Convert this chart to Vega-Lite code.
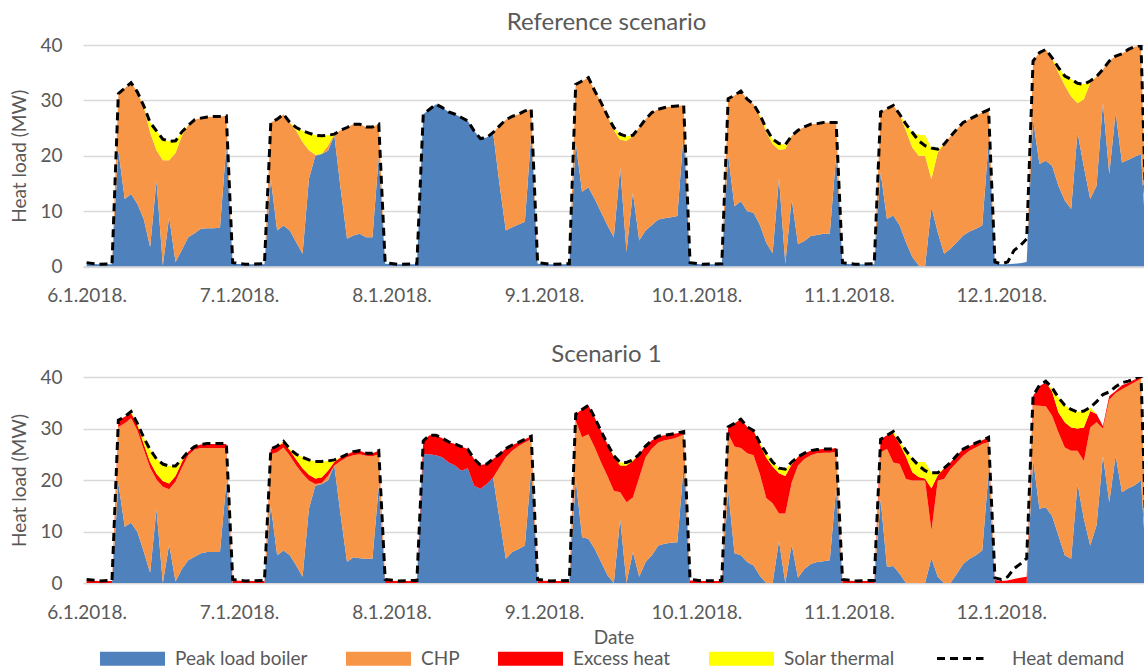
{
"$schema":"https://vega.github.io/schema/vega-lite/v6.json",
"background":"white",
"padding":{"left":10,"top":11,"right":0,"bottom":0},
"config":{
 "font":"Lato",
 "view":{"stroke":null},
 "title":{"font":"Lato","fontSize":24,"fontWeight":"normal","color":"#595959","offset":1,"frame":"group","dx":-7},
 "axis":{"labelFont":"Lato","labelColor":"#595959","labelFontSize":19,"titleFont":"Lato","titleColor":"#595959","titleFontSize":19,"titleFontWeight":"normal"},
 "concat":{"spacing":37}
},
"datasets":{
"ref":[
{"t":"2018-01-06T00:00","b":0.5,"c":0,"e":0,"s":0,"d":0.7},
{"t":"2018-01-06T02:00","b":0.4,"c":0,"e":0,"s":0,"d":0.4},
{"t":"2018-01-06T04:00","b":0.4,"c":0,"e":0,"s":0,"d":0.5},
{"t":"2018-01-06T05:00","b":21,"c":10.2,"e":0,"s":0,"d":31.2},
{"t":"2018-01-06T06:00","b":12.2,"c":20,"e":0,"s":0,"d":32.2},
{"t":"2018-01-06T07:00","b":13.1,"c":20.1,"e":0,"s":0,"d":33.2},
{"t":"2018-01-06T08:00","b":11.3,"c":20.2,"e":0,"s":0,"d":31.5},
{"t":"2018-01-06T09:00","b":8.6,"c":20.2,"e":0,"s":0.2,"d":29},
{"t":"2018-01-06T10:00","b":3.5,"c":20.7,"e":0,"s":1.8,"d":26},
{"t":"2018-01-06T11:00","b":15.5,"c":5.5,"e":0,"s":3.5,"d":24.5},
{"t":"2018-01-06T12:00","b":0.2,"c":19,"e":0,"s":3.8,"d":23},
{"t":"2018-01-06T13:00","b":8.9,"c":10.3,"e":0,"s":3.4,"d":22.6},
{"t":"2018-01-06T14:00","b":0.8,"c":19.7,"e":0,"s":2.2,"d":22.7},
{"t":"2018-01-06T15:00","b":3,"c":20.6,"e":0,"s":0.7,"d":24.3},
{"t":"2018-01-06T16:00","b":5.3,"c":20.2,"e":0,"s":0,"d":25.5},
{"t":"2018-01-06T17:00","b":6,"c":20.5,"e":0,"s":0,"d":26.5},
{"t":"2018-01-06T18:00","b":6.8,"c":20,"e":0,"s":0,"d":26.8},
{"t":"2018-01-06T19:00","b":6.9,"c":20.1,"e":0,"s":0,"d":27},
{"t":"2018-01-06T20:00","b":6.9,"c":20.2,"e":0,"s":0,"d":27.1},
{"t":"2018-01-06T21:00","b":7,"c":20.1,"e":0,"s":0,"d":27.1},
{"t":"2018-01-06T22:00","b":21.8,"c":5.4,"e":0,"s":0,"d":27.2},
{"t":"2018-01-06T23:00","b":0.5,"c":0,"e":0,"s":0,"d":0.7},
{"t":"2018-01-07T01:00","b":0.4,"c":0,"e":0,"s":0,"d":0.4},
{"t":"2018-01-07T04:00","b":0.4,"c":0,"e":0,"s":0,"d":0.5},
{"t":"2018-01-07T05:00","b":15.8,"c":10.2,"e":0,"s":0,"d":26},
{"t":"2018-01-07T06:00","b":6.5,"c":20.1,"e":0,"s":0,"d":26.6},
{"t":"2018-01-07T07:00","b":7.4,"c":20.1,"e":0,"s":0,"d":27.5},
{"t":"2018-01-07T08:00","b":6.5,"c":19.5,"e":0,"s":0,"d":26},
{"t":"2018-01-07T09:00","b":4.4,"c":20.1,"e":0,"s":0.6,"d":25.1},
{"t":"2018-01-07T10:00","b":2.3,"c":20.2,"e":0,"s":2,"d":24.5},
{"t":"2018-01-07T11:00","b":15.8,"c":5.2,"e":0,"s":3.1,"d":24.1},
{"t":"2018-01-07T12:00","b":20,"c":0.2,"e":0,"s":3.5,"d":23.7},
{"t":"2018-01-07T13:00","b":20.3,"c":0,"e":0,"s":3.3,"d":23.6},
{"t":"2018-01-07T14:00","b":20.9,"c":0.9,"e":0,"s":1.9,"d":23.7},
{"t":"2018-01-07T15:00","b":23.7,"c":0.2,"e":0,"s":0,"d":23.9},
{"t":"2018-01-07T16:00","b":14,"c":10.6,"e":0,"s":0,"d":24.6},
{"t":"2018-01-07T17:00","b":5,"c":20.1,"e":0,"s":0,"d":25.1},
{"t":"2018-01-07T18:00","b":5.6,"c":20.1,"e":0,"s":0,"d":25.7},
{"t":"2018-01-07T19:00","b":5.9,"c":19.8,"e":0,"s":0,"d":25.7},
{"t":"2018-01-07T20:00","b":5.3,"c":19.9,"e":0,"s":0,"d":25.2},
{"t":"2018-01-07T21:00","b":5.3,"c":19.9,"e":0,"s":0,"d":25.2},
{"t":"2018-01-07T22:00","b":20,"c":5.7,"e":0,"s":0,"d":25.7},
{"t":"2018-01-07T23:00","b":0.5,"c":0,"e":0,"s":0,"d":0.7},
{"t":"2018-01-08T01:00","b":0.4,"c":0,"e":0,"s":0,"d":0.4},
{"t":"2018-01-08T04:00","b":0.4,"c":0,"e":0,"s":0,"d":0.5},
{"t":"2018-01-08T05:00","b":27.5,"c":0,"e":0,"s":0,"d":27.5},
{"t":"2018-01-08T06:00","b":28.4,"c":0,"e":0,"s":0,"d":28.4},
{"t":"2018-01-08T07:00","b":29.3,"c":0,"e":0,"s":0,"d":29.3},
{"t":"2018-01-08T08:00","b":28.7,"c":0,"e":0,"s":0,"d":28.7},
{"t":"2018-01-08T09:00","b":27.9,"c":0,"e":0,"s":0,"d":27.9},
{"t":"2018-01-08T10:00","b":27.5,"c":0,"e":0,"s":0,"d":27.5},
{"t":"2018-01-08T11:00","b":26.9,"c":0,"e":0,"s":0,"d":26.9},
{"t":"2018-01-08T12:00","b":26.3,"c":0,"e":0,"s":0,"d":26.3},
{"t":"2018-01-08T13:00","b":24.5,"c":0,"e":0,"s":0,"d":24.5},
{"t":"2018-01-08T14:00","b":23.1,"c":0,"e":0,"s":0,"d":23.1},
{"t":"2018-01-08T15:00","b":23.3,"c":0,"e":0,"s":0,"d":23.3},
{"t":"2018-01-08T16:00","b":24.2,"c":0,"e":0,"s":0,"d":24.2},
{"t":"2018-01-08T17:00","b":14.9,"c":10.5,"e":0,"s":0,"d":25.4},
{"t":"2018-01-08T18:00","b":6.5,"c":20,"e":0,"s":0,"d":26.5},
{"t":"2018-01-08T19:00","b":7.1,"c":20,"e":0,"s":0,"d":27.1},
{"t":"2018-01-08T20:00","b":7.6,"c":19.9,"e":0,"s":0,"d":27.5},
{"t":"2018-01-08T21:00","b":8.1,"c":20,"e":0,"s":0,"d":28.1},
{"t":"2018-01-08T22:00","b":24,"c":4.4,"e":0,"s":0,"d":28.4},
{"t":"2018-01-08T23:00","b":0.5,"c":0,"e":0,"s":0,"d":0.7},
{"t":"2018-01-09T01:00","b":0.4,"c":0,"e":0,"s":0,"d":0.4},
{"t":"2018-01-09T04:00","b":0.4,"c":0,"e":0,"s":0,"d":0.5},
{"t":"2018-01-09T05:00","b":22.4,"c":10.5,"e":0,"s":0,"d":32.9},
{"t":"2018-01-09T06:00","b":13.5,"c":20,"e":0,"s":0,"d":33.5},
{"t":"2018-01-09T07:00","b":14.3,"c":19.8,"e":0,"s":0,"d":34.1},
{"t":"2018-01-09T08:00","b":12.2,"c":19.5,"e":0,"s":0,"d":31.7},
{"t":"2018-01-09T09:00","b":9.8,"c":19.8,"e":0,"s":0,"d":29.6},
{"t":"2018-01-09T10:00","b":7.4,"c":19.8,"e":0,"s":0,"d":27.2},
{"t":"2018-01-09T11:00","b":5.3,"c":19.3,"e":0,"s":0.5,"d":25.1},
{"t":"2018-01-09T12:00","b":17.9,"c":5,"e":0,"s":1,"d":23.9},
{"t":"2018-01-09T13:00","b":2.6,"c":20.1,"e":0,"s":0.8,"d":23.5},
{"t":"2018-01-09T14:00","b":13.4,"c":10.1,"e":0,"s":0.2,"d":23.7},
{"t":"2018-01-09T15:00","b":4.7,"c":20.4,"e":0,"s":0,"d":25.1},
{"t":"2018-01-09T16:00","b":6.5,"c":20.1,"e":0,"s":0,"d":26.6},
{"t":"2018-01-09T17:00","b":7.5,"c":20.3,"e":0,"s":0,"d":27.8},
{"t":"2018-01-09T18:00","b":8.5,"c":19.9,"e":0,"s":0,"d":28.4},
{"t":"2018-01-09T19:00","b":8.7,"c":20,"e":0,"s":0,"d":28.7},
{"t":"2018-01-09T20:00","b":8.9,"c":20,"e":0,"s":0,"d":28.9},
{"t":"2018-01-09T21:00","b":9.1,"c":19.9,"e":0,"s":0,"d":29},
{"t":"2018-01-09T22:00","b":24.2,"c":4.9,"e":0,"s":0,"d":29.1},
{"t":"2018-01-09T23:00","b":0.5,"c":0,"e":0,"s":0,"d":0.7},
{"t":"2018-01-10T01:00","b":0.4,"c":0,"e":0,"s":0,"d":0.4},
{"t":"2018-01-10T04:00","b":0.4,"c":0,"e":0,"s":0,"d":0.5},
{"t":"2018-01-10T05:00","b":20.1,"c":10.2,"e":0,"s":0,"d":30.3},
{"t":"2018-01-10T06:00","b":10.9,"c":20,"e":0,"s":0,"d":30.9},
{"t":"2018-01-10T07:00","b":11.8,"c":19.9,"e":0,"s":0,"d":31.7},
{"t":"2018-01-10T08:00","b":10,"c":20.2,"e":0,"s":0,"d":30.2},
{"t":"2018-01-10T09:00","b":9.7,"c":19.6,"e":0,"s":0,"d":29.3},
{"t":"2018-01-10T10:00","b":7.5,"c":19.6,"e":0,"s":0.3,"d":27.4},
{"t":"2018-01-10T11:00","b":4.3,"c":20,"e":0,"s":0.6,"d":24.9},
{"t":"2018-01-10T12:00","b":2.4,"c":19.7,"e":0,"s":0.9,"d":23},
{"t":"2018-01-10T13:00","b":16,"c":5.1,"e":0,"s":1.1,"d":22.2},
{"t":"2018-01-10T14:00","b":0.5,"c":20.7,"e":0,"s":0.8,"d":22},
{"t":"2018-01-10T15:00","b":12.2,"c":11.4,"e":0,"s":0,"d":23.6},
{"t":"2018-01-10T16:00","b":4,"c":20.6,"e":0,"s":0,"d":24.6},
{"t":"2018-01-10T17:00","b":4.6,"c":20.6,"e":0,"s":0,"d":25.2},
{"t":"2018-01-10T18:00","b":5.5,"c":20.2,"e":0,"s":0,"d":25.7},
{"t":"2018-01-10T19:00","b":5.7,"c":20.1,"e":0,"s":0,"d":25.8},
{"t":"2018-01-10T20:00","b":5.9,"c":20.1,"e":0,"s":0,"d":26},
{"t":"2018-01-10T21:00","b":5.9,"c":20.1,"e":0,"s":0,"d":26},
{"t":"2018-01-10T22:00","b":20.1,"c":5.9,"e":0,"s":0,"d":26},
{"t":"2018-01-10T23:00","b":0.5,"c":0,"e":0,"s":0,"d":0.7},
{"t":"2018-01-11T01:00","b":0.4,"c":0,"e":0,"s":0,"d":0.4},
{"t":"2018-01-11T04:00","b":0.4,"c":0,"e":0,"s":0,"d":0.5},
{"t":"2018-01-11T05:00","b":17,"c":10.9,"e":0,"s":0,"d":27.9},
{"t":"2018-01-11T06:00","b":8.6,"c":19.9,"e":0,"s":0,"d":28.5},
{"t":"2018-01-11T07:00","b":9.2,"c":19.9,"e":0,"s":0,"d":29.1},
{"t":"2018-01-11T08:00","b":7.4,"c":20.1,"e":0,"s":0,"d":27.5},
{"t":"2018-01-11T09:00","b":4.4,"c":20.1,"e":0,"s":1.2,"d":25.7},
{"t":"2018-01-11T10:00","b":1.7,"c":19.8,"e":0,"s":2.7,"d":24.2},
{"t":"2018-01-11T11:00","b":0.2,"c":19.8,"e":0,"s":3.8,"d":22.7},
{"t":"2018-01-11T12:00","b":0,"c":20,"e":0,"s":3.7,"d":21.8},
{"t":"2018-01-11T13:00","b":10.7,"c":5.1,"e":0,"s":5.6,"d":21.4},
{"t":"2018-01-11T14:00","b":6.2,"c":14.4,"e":0,"s":0.6,"d":21.2},
{"t":"2018-01-11T15:00","b":2.3,"c":19.8,"e":0,"s":0,"d":22.1},
{"t":"2018-01-11T16:00","b":3.2,"c":20.3,"e":0,"s":0,"d":23.5},
{"t":"2018-01-11T17:00","b":4.4,"c":20.4,"e":0,"s":0,"d":24.8},
{"t":"2018-01-11T18:00","b":5.6,"c":20.4,"e":0,"s":0,"d":26},
{"t":"2018-01-11T19:00","b":6.3,"c":20.3,"e":0,"s":0,"d":26.6},
{"t":"2018-01-11T20:00","b":6.8,"c":20.4,"e":0,"s":0,"d":27.2},
{"t":"2018-01-11T21:00","b":7.4,"c":20.4,"e":0,"s":0,"d":27.8},
{"t":"2018-01-11T22:00","b":22.4,"c":5.9,"e":0,"s":0,"d":28.3},
{"t":"2018-01-11T23:00","b":0.5,"c":0,"e":0,"s":0,"d":0.8},
{"t":"2018-01-12T00:00","b":0.4,"c":0,"e":0,"s":0,"d":0.5},
{"t":"2018-01-12T01:00","b":0.4,"c":0,"e":0,"s":0,"d":0.8},
{"t":"2018-01-12T02:00","b":0.5,"c":0,"e":0,"s":0,"d":2.9},
{"t":"2018-01-12T03:00","b":0.6,"c":0,"e":0,"s":0,"d":3.8},
{"t":"2018-01-12T04:00","b":0.8,"c":0,"e":0,"s":0,"d":5},
{"t":"2018-01-12T05:00","b":26.6,"c":10.5,"e":0,"s":0,"d":37.1},
{"t":"2018-01-12T06:00","b":18.5,"c":20.1,"e":0,"s":0,"d":38.6},
{"t":"2018-01-12T07:00","b":19.1,"c":20.1,"e":0,"s":0,"d":39.2},
{"t":"2018-01-12T08:00","b":18.2,"c":19.3,"e":0,"s":0.2,"d":37.7},
{"t":"2018-01-12T09:00","b":14.6,"c":20.4,"e":0,"s":0.9,"d":35.9},
{"t":"2018-01-12T10:00","b":11.9,"c":20.8,"e":0,"s":1.7,"d":34.4},
{"t":"2018-01-12T11:00","b":10.4,"c":20.3,"e":0,"s":3.1,"d":33.8},
{"t":"2018-01-12T12:00","b":24.2,"c":5.3,"e":0,"s":3.6,"d":33.1},
{"t":"2018-01-12T13:00","b":18,"c":12.2,"e":0,"s":2.7,"d":32.9},
{"t":"2018-01-12T14:00","b":12.2,"c":21,"e":0,"s":0.3,"d":33.5},
{"t":"2018-01-12T15:00","b":14.6,"c":19.7,"e":0,"s":0,"d":34.3},
{"t":"2018-01-12T16:00","b":29.6,"c":6,"e":0,"s":0,"d":35.6},
{"t":"2018-01-12T17:00","b":16.7,"c":20.4,"e":0,"s":0,"d":37.1},
{"t":"2018-01-12T18:00","b":27.8,"c":10.2,"e":0,"s":0,"d":38},
{"t":"2018-01-12T19:00","b":18.8,"c":19.6,"e":0,"s":0,"d":38.4},
{"t":"2018-01-12T20:00","b":19.3,"c":19.9,"e":0,"s":0,"d":39.2},
{"t":"2018-01-12T21:00","b":19.8,"c":19.9,"e":0,"s":0,"d":39.7},
{"t":"2018-01-12T22:00","b":20.3,"c":19.6,"e":0,"s":0,"d":39.9},
{"t":"2018-01-12T23:00","b":0.5,"c":0,"e":0,"s":0,"d":0.7}
],
"sc1":[
{"t":"2018-01-06T00:00","b":0,"c":0,"e":0.5,"s":0,"d":0.7},
{"t":"2018-01-06T02:00","b":0,"c":0,"e":0.4,"s":0,"d":0.4},
{"t":"2018-01-06T04:00","b":0,"c":0,"e":0.4,"s":0,"d":0.5},
{"t":"2018-01-06T05:00","b":19.4,"c":10.9,"e":1.3,"s":0,"d":31.6},
{"t":"2018-01-06T06:00","b":10.9,"c":20.1,"e":1.3,"s":0,"d":32.3},
{"t":"2018-01-06T07:00","b":11.7,"c":20.3,"e":1,"s":0.3,"d":33.3},
{"t":"2018-01-06T08:00","b":9.9,"c":19.7,"e":1.1,"s":0.3,"d":31},
{"t":"2018-01-06T09:00","b":6.1,"c":19.8,"e":1.1,"s":1.2,"d":28.2},
{"t":"2018-01-06T10:00","b":2,"c":20.4,"e":1.1,"s":2.4,"d":25.9},
{"t":"2018-01-06T11:00","b":14.3,"c":5.8,"e":1.1,"s":2.9,"d":24.1},
{"t":"2018-01-06T12:00","b":0,"c":18.7,"e":1.1,"s":3.3,"d":23.1},
{"t":"2018-01-06T13:00","b":7.5,"c":10.7,"e":1.1,"s":3.4,"d":22.7},
{"t":"2018-01-06T14:00","b":0.3,"c":19.4,"e":1.1,"s":1.9,"d":22.7},
{"t":"2018-01-06T15:00","b":2.7,"c":19.7,"e":1.1,"s":0.6,"d":24.1},
{"t":"2018-01-06T16:00","b":4.4,"c":20.4,"e":0.7,"s":0,"d":25.5},
{"t":"2018-01-06T17:00","b":5.1,"c":20.8,"e":0.6,"s":0,"d":26.5},
{"t":"2018-01-06T18:00","b":5.8,"c":20.4,"e":0.7,"s":0,"d":26.9},
{"t":"2018-01-06T19:00","b":6,"c":20.2,"e":0.8,"s":0,"d":27.1},
{"t":"2018-01-06T20:00","b":6,"c":20.2,"e":0.8,"s":0,"d":27.1},
{"t":"2018-01-06T21:00","b":6,"c":20.2,"e":0.8,"s":0,"d":27.1},
{"t":"2018-01-06T22:00","b":19.7,"c":6.5,"e":0.8,"s":0,"d":27.1},
{"t":"2018-01-06T23:00","b":0,"c":0,"e":0.5,"s":0,"d":0.7},
{"t":"2018-01-07T01:00","b":0,"c":0,"e":0.4,"s":0,"d":0.4},
{"t":"2018-01-07T04:00","b":0,"c":0,"e":0.4,"s":0,"d":0.5},
{"t":"2018-01-07T05:00","b":15,"c":10,"e":1,"s":0,"d":26},
{"t":"2018-01-07T06:00","b":5.4,"c":20,"e":1.2,"s":0,"d":26.6},
{"t":"2018-01-07T07:00","b":6.3,"c":20,"e":0.9,"s":0.3,"d":27.5},
{"t":"2018-01-07T08:00","b":5.4,"c":19.3,"e":1.1,"s":0.2,"d":26},
{"t":"2018-01-07T09:00","b":3.4,"c":19.4,"e":1.2,"s":1,"d":25},
{"t":"2018-01-07T10:00","b":1.2,"c":20,"e":1.1,"s":2.1,"d":24.4},
{"t":"2018-01-07T11:00","b":14.4,"c":5.5,"e":1.1,"s":2.9,"d":23.9},
{"t":"2018-01-07T12:00","b":18.9,"c":0.3,"e":1.1,"s":3.3,"d":23.6},
{"t":"2018-01-07T13:00","b":19.2,"c":0.2,"e":1.1,"s":3.1,"d":23.6},
{"t":"2018-01-07T14:00","b":19.9,"c":0.9,"e":1,"s":1.9,"d":23.7},
{"t":"2018-01-07T15:00","b":22.8,"c":0,"e":0.7,"s":0.4,"d":23.9},
{"t":"2018-01-07T16:00","b":13.1,"c":10.6,"e":0.7,"s":0,"d":24.4},
{"t":"2018-01-07T17:00","b":4.1,"c":20.3,"e":0.6,"s":0,"d":25},
{"t":"2018-01-07T18:00","b":5,"c":19.8,"e":0.7,"s":0,"d":25.5},
{"t":"2018-01-07T19:00","b":4.8,"c":20.2,"e":0.7,"s":0,"d":25.7},
{"t":"2018-01-07T20:00","b":4.7,"c":20,"e":0.5,"s":0,"d":25.2},
{"t":"2018-01-07T21:00","b":4.7,"c":19.9,"e":0.6,"s":0,"d":25.2},
{"t":"2018-01-07T22:00","b":18.9,"c":6.1,"e":0.7,"s":0,"d":25.7},
{"t":"2018-01-07T23:00","b":0,"c":0,"e":0.5,"s":0,"d":0.7},
{"t":"2018-01-08T01:00","b":0,"c":0,"e":0.4,"s":0,"d":0.4},
{"t":"2018-01-08T04:00","b":0,"c":0,"e":0.4,"s":0,"d":0.5},
{"t":"2018-01-08T05:00","b":25,"c":0,"e":2.6,"s":0,"d":27.6},
{"t":"2018-01-08T06:00","b":25,"c":0,"e":3.7,"s":0,"d":28.7},
{"t":"2018-01-08T07:00","b":24.8,"c":0,"e":3.9,"s":0,"d":28.7},
{"t":"2018-01-08T08:00","b":24.4,"c":0,"e":3.7,"s":0,"d":28.1},
{"t":"2018-01-08T09:00","b":23.4,"c":0,"e":4,"s":0,"d":27.4},
{"t":"2018-01-08T10:00","b":22.8,"c":0,"e":4.2,"s":0,"d":27},
{"t":"2018-01-08T11:00","b":21.8,"c":0,"e":4.7,"s":0,"d":26.5},
{"t":"2018-01-08T12:00","b":22.3,"c":0,"e":3.7,"s":0,"d":26},
{"t":"2018-01-08T13:00","b":18.9,"c":0,"e":5.2,"s":0,"d":24.1},
{"t":"2018-01-08T14:00","b":18.3,"c":0,"e":4.6,"s":0,"d":22.9},
{"t":"2018-01-08T15:00","b":19.2,"c":0,"e":3.9,"s":0,"d":23.1},
{"t":"2018-01-08T16:00","b":20.5,"c":0,"e":3.6,"s":0,"d":24.1},
{"t":"2018-01-08T17:00","b":12.5,"c":10,"e":2.5,"s":0,"d":25},
{"t":"2018-01-08T18:00","b":4.7,"c":19.7,"e":1.7,"s":0,"d":26.1},
{"t":"2018-01-08T19:00","b":6,"c":19.7,"e":1.1,"s":0,"d":26.8},
{"t":"2018-01-08T20:00","b":6.6,"c":20,"e":0.7,"s":0,"d":27.3},
{"t":"2018-01-08T21:00","b":7.3,"c":20,"e":0.6,"s":0,"d":27.9},
{"t":"2018-01-08T22:00","b":22.1,"c":5.8,"e":0.6,"s":0,"d":28.5},
{"t":"2018-01-08T23:00","b":0,"c":0,"e":0.5,"s":0,"d":0.7},
{"t":"2018-01-09T01:00","b":0,"c":0,"e":0.4,"s":0,"d":0.4},
{"t":"2018-01-09T04:00","b":0,"c":0,"e":0.4,"s":0,"d":0.5},
{"t":"2018-01-09T05:00","b":20.2,"c":11.3,"e":1.3,"s":0,"d":32.8},
{"t":"2018-01-09T06:00","b":8.9,"c":19.4,"e":5.4,"s":0,"d":33.7},
{"t":"2018-01-09T07:00","b":8.6,"c":20.3,"e":5.6,"s":0,"d":34.5},
{"t":"2018-01-09T08:00","b":6.6,"c":19.7,"e":5.8,"s":0,"d":32.1},
{"t":"2018-01-09T09:00","b":4.1,"c":19.3,"e":6.1,"s":0,"d":29.5},
{"t":"2018-01-09T10:00","b":1.5,"c":19.3,"e":6.2,"s":0,"d":27},
{"t":"2018-01-09T11:00","b":0,"c":17.9,"e":6.6,"s":0.2,"d":24.7},
{"t":"2018-01-09T12:00","b":12.5,"c":5.1,"e":5.2,"s":0.6,"d":23.4},
{"t":"2018-01-09T13:00","b":0,"c":15.7,"e":7.1,"s":0.6,"d":23.4},
{"t":"2018-01-09T14:00","b":6,"c":10.6,"e":7.1,"s":0.2,"d":23.9},
{"t":"2018-01-09T15:00","b":1.2,"c":19.3,"e":4.5,"s":0,"d":25},
{"t":"2018-01-09T16:00","b":4.1,"c":20.3,"e":2.2,"s":0,"d":26.6},
{"t":"2018-01-09T17:00","b":5.4,"c":20.7,"e":1.6,"s":0,"d":27.7},
{"t":"2018-01-09T18:00","b":7.3,"c":20,"e":1.2,"s":0,"d":28.5},
{"t":"2018-01-09T19:00","b":7.6,"c":20.1,"e":1,"s":0,"d":28.7},
{"t":"2018-01-09T20:00","b":7.8,"c":20.1,"e":1,"s":0,"d":28.9},
{"t":"2018-01-09T21:00","b":7.9,"c":20.4,"e":0.8,"s":0,"d":29.1},
{"t":"2018-01-09T22:00","b":22.8,"c":6.1,"e":0.5,"s":0,"d":29.4},
{"t":"2018-01-09T23:00","b":0,"c":0,"e":0.5,"s":0,"d":0.7},
{"t":"2018-01-10T01:00","b":0,"c":0,"e":0.4,"s":0,"d":0.4},
{"t":"2018-01-10T04:00","b":0,"c":0,"e":0.4,"s":0,"d":0.5},
{"t":"2018-01-10T05:00","b":18,"c":11,"e":1.3,"s":0,"d":30.3},
{"t":"2018-01-10T06:00","b":5.8,"c":20.7,"e":4.5,"s":0,"d":31},
{"t":"2018-01-10T07:00","b":5.4,"c":20.8,"e":5.6,"s":0,"d":31.8},
{"t":"2018-01-10T08:00","b":4.1,"c":21.1,"e":5.1,"s":0,"d":30.3},
{"t":"2018-01-10T09:00","b":3.4,"c":21.4,"e":4.8,"s":0,"d":29.6},
{"t":"2018-01-10T10:00","b":1.4,"c":19.7,"e":5.8,"s":0.3,"d":27.2},
{"t":"2018-01-10T11:00","b":0,"c":16.5,"e":7.8,"s":0.9,"d":25.2},
{"t":"2018-01-10T12:00","b":0,"c":15.5,"e":7.1,"s":0.9,"d":23.5},
{"t":"2018-01-10T13:00","b":8.2,"c":5.3,"e":7.8,"s":1,"d":22.3},
{"t":"2018-01-10T14:00","b":0,"c":13.5,"e":7.3,"s":1.3,"d":22.1},
{"t":"2018-01-10T15:00","b":7.5,"c":12,"e":3.5,"s":0.5,"d":23.5},
{"t":"2018-01-10T16:00","b":1,"c":21.8,"e":1.7,"s":0,"d":24.5},
{"t":"2018-01-10T17:00","b":2.7,"c":21.4,"e":1.1,"s":0,"d":25.2},
{"t":"2018-01-10T18:00","b":3.7,"c":21.1,"e":0.9,"s":0,"d":25.7},
{"t":"2018-01-10T19:00","b":4.1,"c":21.1,"e":0.7,"s":0,"d":25.9},
{"t":"2018-01-10T20:00","b":4.2,"c":21.1,"e":0.7,"s":0,"d":26},
{"t":"2018-01-10T21:00","b":4.4,"c":20.9,"e":0.7,"s":0,"d":26},
{"t":"2018-01-10T22:00","b":18.4,"c":7.1,"e":0.7,"s":0,"d":26.2},
{"t":"2018-01-10T23:00","b":0,"c":0,"e":0.5,"s":0,"d":0.7},
{"t":"2018-01-11T01:00","b":0,"c":0,"e":0.4,"s":0,"d":0.4},
{"t":"2018-01-11T04:00","b":0,"c":0,"e":0.4,"s":0,"d":0.5},
{"t":"2018-01-11T05:00","b":16.3,"c":9.1,"e":2.5,"s":0,"d":27.9},
{"t":"2018-01-11T06:00","b":3.1,"c":22.9,"e":2.7,"s":0,"d":28.7},
{"t":"2018-01-11T07:00","b":3.3,"c":20.1,"e":5.6,"s":0.4,"d":29.4},
{"t":"2018-01-11T08:00","b":1.8,"c":21.3,"e":3.9,"s":0.6,"d":27.6},
{"t":"2018-01-11T09:00","b":0,"c":20.2,"e":4.3,"s":1.2,"d":25.7},
{"t":"2018-01-11T10:00","b":0,"c":19.9,"e":1.6,"s":2.6,"d":24.1},
{"t":"2018-01-11T11:00","b":0,"c":19.9,"e":0.7,"s":2.9,"d":22.8},
{"t":"2018-01-11T12:00","b":0,"c":19.9,"e":0.4,"s":3.2,"d":21.8},
{"t":"2018-01-11T13:00","b":4.8,"c":5.4,"e":8.2,"s":3,"d":21.4},
{"t":"2018-01-11T14:00","b":1.2,"c":18.7,"e":1,"s":0.5,"d":21.4},
{"t":"2018-01-11T15:00","b":0,"c":20.2,"e":2.1,"s":0,"d":22.3},
{"t":"2018-01-11T16:00","b":0,"c":22.1,"e":1.3,"s":0,"d":23.4},
{"t":"2018-01-11T17:00","b":1.8,"c":21.6,"e":1.4,"s":0,"d":24.8},
{"t":"2018-01-11T18:00","b":3.7,"c":21,"e":1.3,"s":0,"d":26},
{"t":"2018-01-11T19:00","b":4.7,"c":21,"e":0.9,"s":0,"d":26.6},
{"t":"2018-01-11T20:00","b":5.4,"c":20.9,"e":0.9,"s":0,"d":27.2},
{"t":"2018-01-11T21:00","b":6.3,"c":20.7,"e":0.7,"s":0,"d":27.7},
{"t":"2018-01-11T22:00","b":21.5,"c":5.9,"e":0.9,"s":0,"d":28.3},
{"t":"2018-01-11T23:00","b":0,"c":0,"e":0.6,"s":0,"d":1},
{"t":"2018-01-12T00:00","b":0,"c":0,"e":0.4,"s":0,"d":0.7},
{"t":"2018-01-12T01:00","b":0,"c":0,"e":0.5,"s":0,"d":1.2},
{"t":"2018-01-12T02:00","b":0,"c":0,"e":0.8,"s":0,"d":2.8},
{"t":"2018-01-12T03:00","b":0,"c":0,"e":1,"s":0,"d":3.7},
{"t":"2018-01-12T04:00","b":0,"c":0,"e":1.2,"s":0,"d":4.8},
{"t":"2018-01-12T05:00","b":24.1,"c":10.4,"e":1.8,"s":0,"d":36.3},
{"t":"2018-01-12T06:00","b":14.4,"c":20,"e":3.8,"s":0,"d":38.4},
{"t":"2018-01-12T07:00","b":14.7,"c":19.6,"e":4.7,"s":0,"d":39.2},
{"t":"2018-01-12T08:00","b":13,"c":19.5,"e":4.7,"s":0.5,"d":37.9},
{"t":"2018-01-12T09:00","b":9.2,"c":20,"e":3.9,"s":2.9,"d":36},
{"t":"2018-01-12T10:00","b":5.4,"c":20.9,"e":4.9,"s":3.3,"d":34.5},
{"t":"2018-01-12T11:00","b":4.7,"c":21,"e":4.5,"s":3.5,"d":33.7},
{"t":"2018-01-12T12:00","b":19.2,"c":6.5,"e":4.3,"s":3.2,"d":33.2},
{"t":"2018-01-12T13:00","b":12.5,"c":11.2,"e":6.5,"s":3.2,"d":33.4},
{"t":"2018-01-12T14:00","b":7.3,"c":22.9,"e":3.2,"s":0.7,"d":34.1},
{"t":"2018-01-12T15:00","b":11.2,"c":20,"e":1.6,"s":0,"d":35.2},
{"t":"2018-01-12T16:00","b":24.7,"c":5.3,"e":0.5,"s":0,"d":36.6},
{"t":"2018-01-12T17:00","b":15.7,"c":19.9,"e":0.7,"s":0,"d":37.1},
{"t":"2018-01-12T18:00","b":24.7,"c":12.2,"e":0.4,"s":0,"d":38.1},
{"t":"2018-01-12T19:00","b":17.6,"c":20,"e":0.8,"s":0,"d":38.9},
{"t":"2018-01-12T20:00","b":18.4,"c":19.9,"e":0.6,"s":0,"d":39.2},
{"t":"2018-01-12T21:00","b":19,"c":20,"e":0.5,"s":0,"d":39.7},
{"t":"2018-01-12T22:00","b":19.9,"c":19.8,"e":0.3,"s":0,"d":40.2},
{"t":"2018-01-12T23:00","b":0,"c":0,"e":0.5,"s":0,"d":0.7}
]
},
"vconcat":[
{
 "title":{"text":"Reference scenario"},
 "width":1061,"height":221.5,
 "data":{"name":"ref"},
 "layer":[
  {
   "transform":[
    {"fold":["b","c","e","s"],"as":["k","v"]},
    {"lookup":"k","from":{"data":{"values":[{"k":"b","label":"Peak load boiler","o":1},{"k":"c","label":"CHP","o":2},{"k":"e","label":"Excess heat","o":3},{"k":"s","label":"Solar thermal","o":4}]},"key":"k","fields":["label","o"]}}
   ],
   "mark":{"type":"area","clip":true},
   "encoding":{
    "x":{"field":"t","type":"temporal","scale":{"domain":[{"year":2018,"month":1,"date":5,"hours":23,"minutes":26},{"year":2018,"month":1,"date":12,"hours":22,"minutes":28}]},
         "axis":{"title":null,"values":[{"year":2018,"month":1,"date":6},{"year":2018,"month":1,"date":7},{"year":2018,"month":1,"date":8},{"year":2018,"month":1,"date":9},{"year":2018,"month":1,"date":10},{"year":2018,"month":1,"date":11},{"year":2018,"month":1,"date":12}],"format":"%-d.%-m.%Y.","grid":false,"ticks":false,"tickSize":0,"labelPadding":20,"domainColor":"#d9d9d9","domainWidth":1.5}},
    "y":{"field":"v","type":"quantitative","stack":"zero","scale":{"domain":[0,40],"nice":false},
         "axis":{"title":"Heat load (MW)","values":[0,10,20,30,40],"grid":true,"gridColor":"#d9d9d9","gridWidth":1.5,"domain":false,"ticks":false,"tickSize":0,"labelPadding":21,"titlePadding":10}},
    "color":{"field":"label","type":"nominal",
      "scale":{"domain":["Peak load boiler","CHP","Excess heat","Solar thermal"],"range":["#4F81BD","#F79646","#FF0000","#FFFF00"]},
      "legend":{"orient":"none","legendX":15,"legendY":604,"direction":"horizontal","title":null,
        "symbolType":"M-1,-0.93H7.67V0.93H-1Z","symbolSize":225,"symbolStrokeWidth":0,"symbolOpacity":1,"labelFont":"Lato","labelFontSize":19,"labelColor":"#595959","labelOffset":58,"columnPadding":36}},
    "order":{"field":"o","type":"quantitative"}
   }
  },
  {
   "mark":{"type":"line","clip":true,"color":"#000000","strokeWidth":3},
   "encoding":{
    "x":{"field":"t","type":"temporal"},
    "y":{"field":"d","type":"quantitative","title":"Heat load (MW)"},
    "strokeDash":{"datum":"Heat demand","type":"nominal",
      "scale":{"domain":["Heat demand"],"range":[[8,5]]},
      "legend":{"orient":"none","legendX":852,"legendY":604,"title":null,
        "symbolType":"M-1,0H5.2","symbolSize":225,"symbolStrokeWidth":3,"symbolStrokeColor":"#000000","symbolFillColor":"transparent","labelFont":"Lato","labelFontSize":19,"labelColor":"#595959","labelOffset":58}}
   }
  }
 ]
},
{
 "title":{"text":"Scenario 1"},
 "width":1061,"height":206,
 "data":{"name":"sc1"},
 "layer":[
  {
   "transform":[
    {"fold":["b","c","e","s"],"as":["k","v"]},
    {"lookup":"k","from":{"data":{"values":[{"k":"b","label":"Peak load boiler","o":1},{"k":"c","label":"CHP","o":2},{"k":"e","label":"Excess heat","o":3},{"k":"s","label":"Solar thermal","o":4}]},"key":"k","fields":["label","o"]}}
   ],
   "mark":{"type":"area","clip":true},
   "encoding":{
    "x":{"field":"t","type":"temporal","scale":{"domain":[{"year":2018,"month":1,"date":5,"hours":23,"minutes":26},{"year":2018,"month":1,"date":12,"hours":22,"minutes":28}]},
         "axis":{"title":"Date","titlePadding":6,"titleFontSize":19,"values":[{"year":2018,"month":1,"date":6},{"year":2018,"month":1,"date":7},{"year":2018,"month":1,"date":8},{"year":2018,"month":1,"date":9},{"year":2018,"month":1,"date":10},{"year":2018,"month":1,"date":11},{"year":2018,"month":1,"date":12}],"format":"%-d.%-m.%Y.","grid":false,"ticks":false,"tickSize":0,"labelPadding":20,"domainColor":"#d9d9d9","domainWidth":1.5}},
    "y":{"field":"v","type":"quantitative","stack":"zero","scale":{"domain":[0,40],"nice":false},
         "axis":{"title":"Heat load (MW)","values":[0,10,20,30,40],"grid":true,"gridColor":"#d9d9d9","gridWidth":1.5,"domain":false,"ticks":false,"tickSize":0,"labelPadding":21,"titlePadding":10}},
    "color":{"field":"label","type":"nominal"},
    "order":{"field":"o","type":"quantitative"}
   }
  },
  {
   "mark":{"type":"line","clip":true,"color":"#000000","strokeWidth":3},
   "encoding":{
    "x":{"field":"t","type":"temporal","title":"Date"},
    "y":{"field":"d","type":"quantitative","title":"Heat load (MW)"},
    "strokeDash":{"datum":"Heat demand","type":"nominal"}
   }
  }
 ]
}
]
}
